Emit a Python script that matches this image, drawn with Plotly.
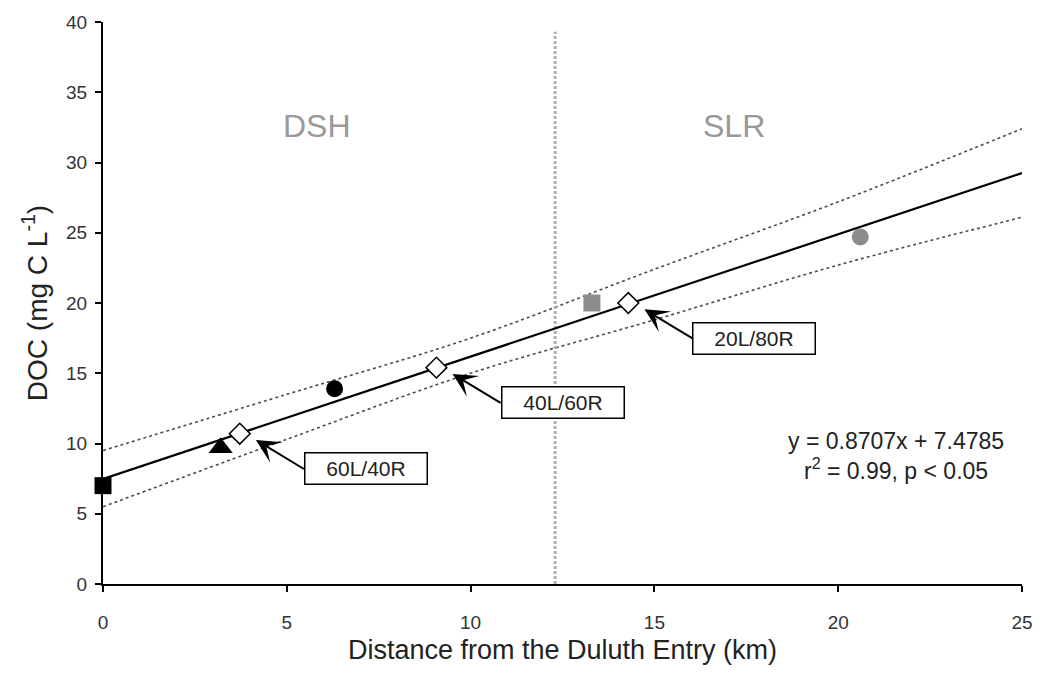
import plotly.graph_objects as go

# Sampling sites: distance from the Duluth Entry (km) and measured DOC (mg C L-1)
site_km = [0.0, 3.2, 6.3, 13.3, 20.6]
site_doc = [7.0, 9.7, 13.9, 20.0, 24.7]
site_symbol = ["square", "triangle-up", "circle", "square", "circle"]
site_size = [17, 21, 17, 17, 17]
site_color = ["black", "black", "black", "#8c8c8c", "#8c8c8c"]

# Mixing scenarios between the two end-members (left/right proportions)
mix_labels = ["60L/40R", "40L/60R", "20L/80R"]
mix_km = [3.72, 9.07, 14.29]
mix_doc = [10.7, 15.4, 20.0]

# Linear regression of DOC on distance
slope = 0.8707
intercept = 7.4785
r_squared = 0.99

# 95% confidence band around the regression
band_km = [0, 5, 10, 15, 20, 25]
band_upper = [9.5, 13.5, 17.5, 22.4, 27.2, 32.4]
band_lower = [5.5, 10.3, 15.0, 18.8, 22.7, 26.1]

# Boundary between the Duluth-Superior Harbor and the St. Louis River
boundary_km = 12.3
region_names = ["DSH", "SLR"]
region_km = [5.82, 17.16]

x_range = [0, 25]
y_range = [0, 40]

FONT = "Arial, 'Liberation Sans', Helvetica, sans-serif"

fig = go.Figure()

# confidence band
for band in (band_upper, band_lower):
    fig.add_trace(go.Scatter(
        x=band_km, y=band, mode="lines", line_shape="spline",
        line=dict(color="#4d4d4d", width=1.6, dash="dot"),
        hoverinfo="skip", showlegend=False,
    ))

# region boundary
fig.add_trace(go.Scatter(
    x=[boundary_km, boundary_km], y=[y_range[0], 39.3], mode="lines",
    line=dict(color="#b0b0b0", width=3, dash="3px,2px"),
    hoverinfo="skip", showlegend=False,
))

# regression line
fit_x = list(x_range)
fit_y = [intercept + slope * v for v in fit_x]
fig.add_trace(go.Scatter(
    x=fit_x, y=fit_y, mode="lines",
    line=dict(color="black", width=2.2),
    hoverinfo="skip", showlegend=False,
))

# mixing scenarios (open diamonds)
fig.add_trace(go.Scatter(
    x=mix_km, y=mix_doc, mode="markers",
    marker=dict(symbol="diamond", size=16, color="white", opacity=1,
                line=dict(color="black", width=1.5)),
    showlegend=False, cliponaxis=False,
))

# sampling sites
fig.add_trace(go.Scatter(
    x=site_km, y=site_doc, mode="markers",
    marker=dict(symbol=site_symbol, size=site_size, color=site_color,
                opacity=1, line=dict(width=0)),
    showlegend=False, cliponaxis=False,
))

annotations = []

# labelled arrows pointing at each mixing scenario
for lbl, mx, my in zip(mix_labels, mix_km, mix_doc):
    annotations.append(dict(
        x=mx + 0.44, y=my - 0.45, xref="x", yref="y",
        ax=48, ay=29, axref="pixel", ayref="pixel",
        text=lbl, showarrow=True,
        arrowhead=3, arrowsize=2, arrowwidth=2, arrowcolor="black",
        xanchor="left", yanchor="middle",
        width=119, height=28, align="center", valign="middle",
        bordercolor="black", borderwidth=1.5, borderpad=1,
        bgcolor="white",
        font=dict(family=FONT, size=21, color="#222222"),
    ))

# region names
for name, rx in zip(region_names, region_km):
    annotations.append(dict(
        x=rx, y=32.6, xref="x", yref="y", text=name, showarrow=False,
        xanchor="center", yanchor="middle",
        font=dict(family=FONT, size=32, color="#999999"),
    ))

# regression equation
annotations.append(dict(
    x=21.57, y=9.1, xref="x", yref="y", showarrow=False,
    text=(f"y = {slope}x + {intercept}<br>"
          f"r<sup>2</sup> = {r_squared}, p &lt; 0.05"),
    xanchor="center", yanchor="middle", align="center",
    font=dict(family=FONT, size=23, color="#222222"),
))

axis_common = dict(
    showgrid=False, zeroline=False, showline=True,
    linecolor="black", linewidth=2,
    ticks="outside", ticklen=6, tickwidth=1.5, tickcolor="black",
    tickfont=dict(family=FONT, size=19, color="#333333"),
)

fig.update_layout(
    width=1045, height=674,
    margin=dict(l=103, r=21, t=20, b=90),
    paper_bgcolor="white", plot_bgcolor="white",
    annotations=annotations,
    xaxis=dict(
        range=x_range, dtick=5, tick0=0, ticklabelstandoff=14,
        title=dict(text="Distance from the Duluth Entry (km)",
                   font=dict(family=FONT, size=27, color="#222222"),
                   standoff=8),
        **axis_common,
    ),
    yaxis=dict(
        range=y_range, dtick=5, tick0=0, ticklabelstandoff=4,
        title=dict(text="DOC (mg C L<sup>-1</sup>)",
                   font=dict(family=FONT, size=28, color="#222222"),
                   standoff=10),
        **axis_common,
    ),
)

fig.write_html("out.html")
